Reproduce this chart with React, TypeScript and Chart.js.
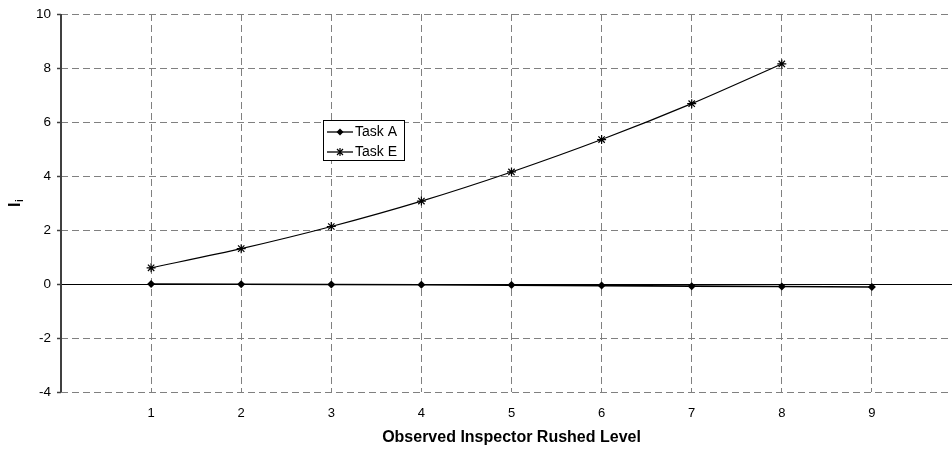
import React, { useEffect, useRef } from "react";
import { Chart, registerables } from "chart.js";

Chart.register(...registerables);

const categories = [1, 2, 3, 4, 5, 6, 7, 8, 9];
const taskA = [0, -0.01, -0.02, -0.03, -0.04, -0.06, -0.08, -0.09, -0.11];
const taskE = [0.6, 1.31, 2.13, 3.07, 4.15, 5.35, 6.68, 8.15];
const xTickLabels = ["", "1", "2", "3", "4", "5", "6", "7", "8", "9", ""];
const seriesNames = ["Task A", "Task E"];
const yMin = -4;
const yMax = 10;
const yStep = 2;
const xTitle = "Observed Inspector Rushed Level";

const FONT = "Arial, 'Liberation Sans', sans-serif";

const extrasPlugin = {
  id: "extras",
  beforeDatasetsDraw(chart: any) {
    const { ctx, chartArea, scales } = chart;
    const y0 = scales.y.getPixelForValue(0);
    ctx.save();
    ctx.setLineDash([]);
    ctx.strokeStyle = "#000";
    ctx.lineWidth = 1;
    ctx.beginPath();
    ctx.moveTo(chartArea.left, Math.round(y0) + 0.5);
    ctx.lineTo(chartArea.right, Math.round(y0) + 0.5);
    ctx.stroke();
    ctx.strokeStyle = "#404040";
    ctx.lineWidth = 2;
    ctx.beginPath();
    ctx.moveTo(chartArea.left, chartArea.top);
    ctx.lineTo(chartArea.left, chartArea.bottom);
    ctx.stroke();
    ctx.restore();
  },
  afterDraw(chart: any) {
    const { ctx } = chart;
    ctx.save();
    // y axis title: I with subscript i
    ctx.translate(20, 207);
    ctx.rotate(-Math.PI / 2);
    ctx.fillStyle = "#000";
    ctx.textBaseline = "alphabetic";
    ctx.textAlign = "left";
    ctx.font = "bold 16px " + FONT;
    ctx.fillText("I", 0, 0);
    const w = ctx.measureText("I").width;
    ctx.font = "bold 10px " + FONT;
    ctx.fillText("i", w + 0.5, 3);
    ctx.restore();

    // legend
    ctx.save();
    const bx = 323, by = 120, bw = 81, bh = 40;
    ctx.fillStyle = "#fff";
    ctx.fillRect(bx, by, bw, bh);
    ctx.strokeStyle = "#000";
    ctx.lineWidth = 1;
    ctx.setLineDash([]);
    ctx.strokeRect(bx + 0.5, by + 0.5, bw, bh);
    const rows = [132, 152];
    rows.forEach((ry, i) => {
      ctx.strokeStyle = "#000";
      ctx.lineWidth = 1.3;
      ctx.beginPath();
      ctx.moveTo(327, ry);
      ctx.lineTo(353, ry);
      ctx.stroke();
      const cx = 340;
      if (i === 0) {
        ctx.fillStyle = "#000";
        ctx.beginPath();
        ctx.moveTo(cx, ry - 3.5);
        ctx.lineTo(cx + 3.5, ry);
        ctx.lineTo(cx, ry + 3.5);
        ctx.lineTo(cx - 3.5, ry);
        ctx.closePath();
        ctx.fill();
      } else {
        ctx.lineWidth = 1.2;
        ctx.beginPath();
        ctx.moveTo(cx - 3, ry - 3);
        ctx.lineTo(cx + 3, ry + 3);
        ctx.moveTo(cx + 3, ry - 3);
        ctx.lineTo(cx - 3, ry + 3);
        ctx.moveTo(cx, ry - 4);
        ctx.lineTo(cx, ry + 4);
        ctx.stroke();
      }
      ctx.fillStyle = "#000";
      ctx.font = "14px " + FONT;
      ctx.textBaseline = "middle";
      ctx.textAlign = "left";
      ctx.fillText(seriesNames[i], 355, ry);
    });
    ctx.restore();
  },
};

export default function App() {
  const ref = useRef<HTMLCanvasElement | null>(null);
  useEffect(() => {
    if (!ref.current) return;
    const chart = new Chart(ref.current, {
      type: "line",
      data: {
        datasets: [
          {
            label: seriesNames[0],
            data: categories.map((c, i) => ({ x: c, y: taskA[i] })),
            borderColor: "#000",
            backgroundColor: "#000",
            borderWidth: 1.6,
            pointStyle: "rectRot",
            pointRadius: 4,
            pointBorderWidth: 0,
            tension: 0,
          },
          {
            label: seriesNames[1],
            data: taskE.map((v, i) => ({ x: categories[i], y: v })),
            borderColor: "#000",
            backgroundColor: "#000",
            borderWidth: 1.2,
            pointStyle: "star",
            pointRadius: 4.5,
            pointBorderWidth: 1.2,
            tension: 0.25,
          },
        ],
      },
      options: {
        animation: false,
        responsive: false,
        maintainAspectRatio: false,
        devicePixelRatio: 1,
        layout: { padding: { left: 0, top: 14, right: 8, bottom: 0 } },
        plugins: { legend: { display: false }, tooltip: { enabled: false } },
        scales: {
          x: {
            type: "linear",
            min: 0,
            max: 10,
            afterFit: (s: any) => {
              s.height = 61;
              s.paddingLeft = 0;
              s.paddingRight = 0;
            },
            ticks: {
              stepSize: 1,
              autoSkip: false,
              maxRotation: 0,
              padding: 14,
              color: "#000",
              font: { family: FONT, size: 13 },
              callback: (v: any) => xTickLabels[Math.round(Number(v))] ?? "",
            },
            grid: { color: "#808080", lineWidth: 1, drawTicks: false },
            border: { display: false, dash: [7, 4] },
            title: {
              display: true,
              text: xTitle,
              color: "#000",
              font: { family: FONT, size: 16, weight: "bold" },
              padding: { top: 0, bottom: 6 },
            },
          },
          y: {
            min: yMin,
            max: yMax,
            afterFit: (s: any) => {
              s.width = 61;
              s.paddingTop = 0;
              s.paddingBottom = 0;
            },
            ticks: {
              stepSize: yStep,
              padding: 6,
              color: "#000",
              font: { family: FONT, size: 13.5 },
            },
            grid: {
              color: "#808080",
              lineWidth: 1,
              drawTicks: true,
              tickLength: 4,
              tickColor: "#404040",
              tickWidth: 1.5,
            },
            border: { display: false, dash: [7, 4] },
          },
        },
      },
      plugins: [extrasPlugin],
    });
    return () => chart.destroy();
  }, []);
  return (
    <div
      style={{
        position: "fixed",
        left: 0,
        top: 0,
        width: 952,
        height: 453,
        overflow: "hidden",
        background: "#fff",
      }}
    >
      <canvas
        ref={ref}
        width={970}
        height={453}
        style={{ display: "block", width: 970, height: 453 }}
      />
    </div>
  );
}
